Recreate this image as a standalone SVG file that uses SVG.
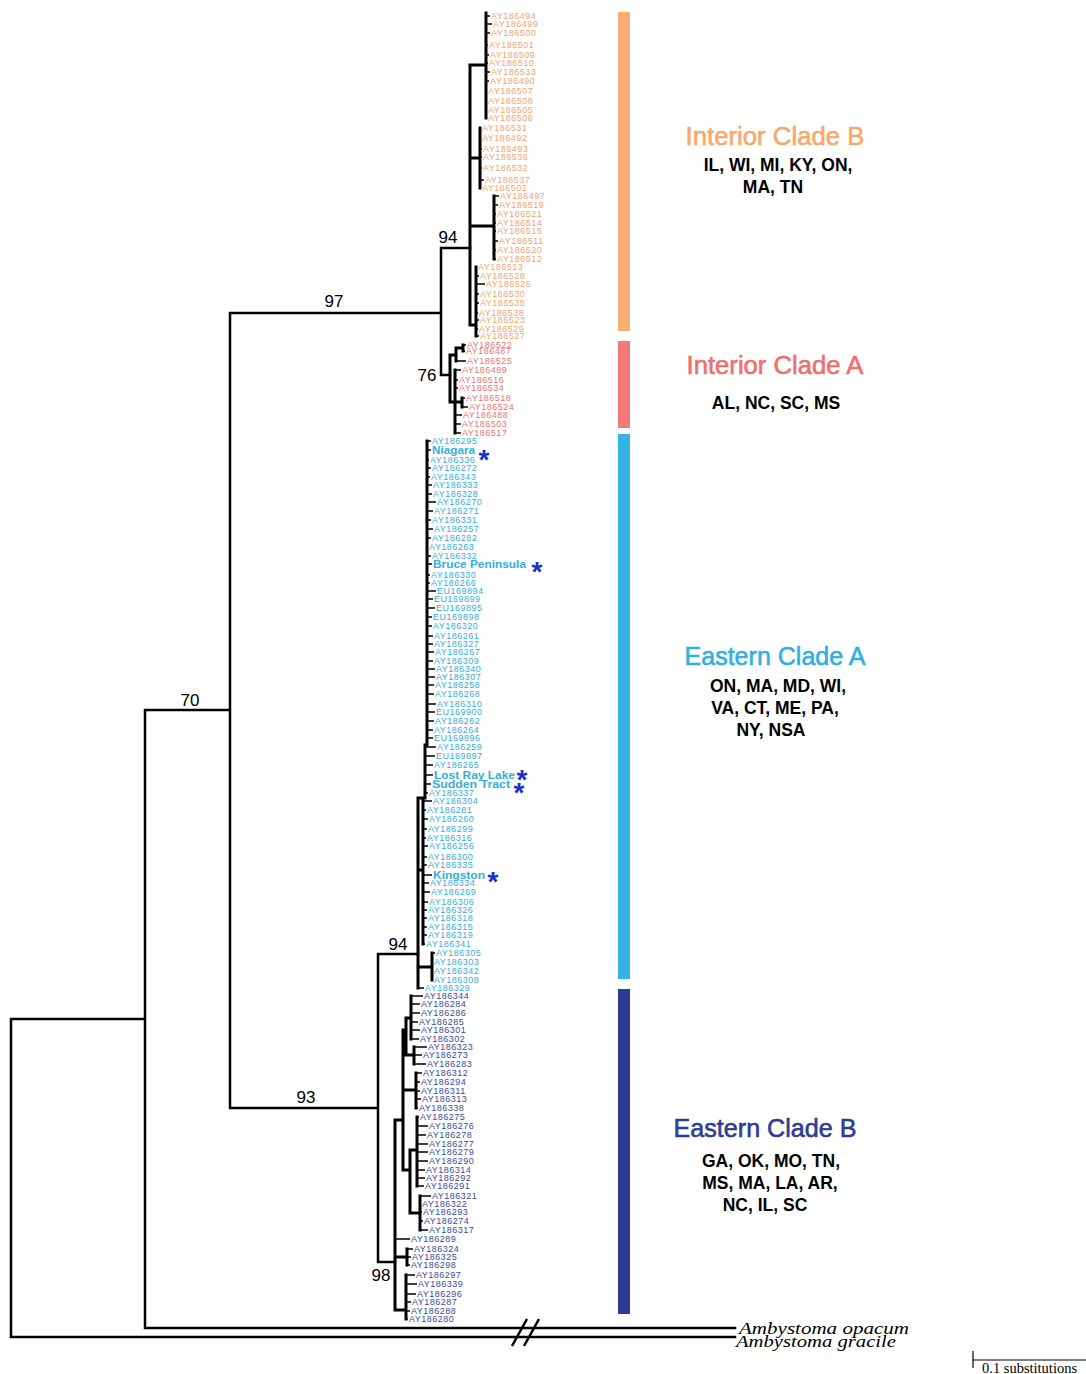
<svg xmlns="http://www.w3.org/2000/svg" width="1086" height="1374" viewBox="0 0 1086 1374">
<style>
.bb{stroke:#000;stroke-width:2.5;fill:none;stroke-linecap:square}
.in{stroke:#000;stroke-width:3;fill:none;stroke-linecap:square}
.tp{stroke:#000;stroke-width:1.5;fill:none}
.t{font-family:"Liberation Sans",Arial,sans-serif;font-size:9px;letter-spacing:0.5px}
.bl{font-family:"Liberation Sans",Arial,sans-serif;font-size:10px;font-weight:bold;fill:#34AEDD}
.ob{fill:#F2A470}.ra{fill:#EC7474}.ea{fill:#34AEDD}.eb{fill:#3A4A9E}
.st{font-family:"Liberation Sans",Arial,sans-serif;font-size:28px;font-weight:bold;fill:#1C2FC4;text-anchor:middle}
.ti{font-family:"Liberation Sans",Arial,sans-serif;font-size:26px;text-anchor:middle;stroke-width:0.6}
.rg{font-family:"Liberation Sans",Arial,sans-serif;font-size:17.5px;font-weight:bold;text-anchor:middle;fill:#000}
.bs{font-family:"Liberation Sans",Arial,sans-serif;font-size:17px;fill:#000;text-anchor:middle}
.og{font-family:"Liberation Serif","Times New Roman",serif;font-size:17px;font-style:italic;fill:#000}
</style>
<rect width="1086" height="1374" fill="#fff"/>
<g id="connectors">
<path class="bb" d="M11,1019V1337M11,1019H145M11,1337H735M145,710V1328M145,1328H735M145,710H230M230,313V1108M230,313H441M230,1108H378M441,248V375M441,248H470M441,375H450M378,954V1262M378,954H418M378,1262H395"/>
<g id="break">
<path d="M512,1346L527,1319M524,1346L539,1319" stroke="#000" stroke-width="2.5"/>
</g>
<path class="in" d="M470,65V325M470,65H486M486,13V118M470,158H480M480,128V188M470,226H494M494,196V259M470,325H476M476,267V336"/>
<path class="tp" d="M486,16H490M486,24H492M486,33H490M486,45H488M486,55H489M486,63H488M486,72H490M486,81H489M480,149H482M480,157H482M480,168H482M480,180H484M494,196H499M494,205H498M494,214H496M494,223H496M494,231H496M494,241H498M494,250H496M494,259H496M476,276H479M476,284H485M476,294H479M476,303H479M476,313H478M476,320H479M476,329H478M476,336H479"/>
<path class="in" d="M450,355V402M450,355H456M456,348V361M456,348H463M463,345V351M450,402H455M455,370V433M455,402H462M462,398V407"/>
<path class="tp" d="M463,345H466M463,351H465M456,361H466M455,370H461M455,380H458M455,388H458M455,415H462M455,424H461M455,433H461M462,398H465M462,407H468"/>
<path class="in" d="M427,441V745M425,745H427M425,745V798M418,798H425M418,798V988M418,870H423M423,801V944M418,967H432M432,953V980"/>
<path class="tp" d="M427,441H431M427,450H431M427,460H429M427,468H431M427,477H430M427,485H432M427,494H432M427,502H436M427,511H433M427,520H431M427,529H433M427,538H431M427,556H431M427,564H432M427,575H430M427,583H430M427,591H436M427,599H433M427,608H435M427,617H432M427,626H432M427,636H433M427,644H433M427,652H434M427,661H433M427,669H435M427,677H435M427,685H434M427,694H434M427,704H436M427,712H435M427,721H434M427,730H433M427,738H433M425,747H436M425,756H435M425,765H433M425,775H433M425,784H431M425,793H428M423,801H432M423,810H426M423,819H428M423,829H427M423,838H426M423,846H428M423,857H427M423,865H427M423,875H432M423,883H429M423,892H430M423,902H428M423,910H427M423,918H427M423,927H427M423,935H427M423,944H425M432,953H435M432,962H433M432,971H433M432,980H433M418,988H424"/>
<path class="in" d="M395,1120V1310M395,1120H403M403,1030V1170M403,1030H406M406,1018V1055M406,1018H411M411,996V1039M406,1055H414M414,1047V1064M403,1090H416M416,1073V1108M403,1170H410M410,1150V1213M410,1150H417M417,1117V1186M410,1213H420M420,1196V1230M395,1257H407M407,1249V1265M395,1310H406M406,1275V1319"/>
<path class="tp" d="M411,996H423M411,1004H420M411,1013H420M411,1022H418M411,1030H420M411,1039H419M414,1047H427M414,1055H422M414,1064H426M416,1073H422M416,1082H420M416,1091H420M416,1099H421M416,1108H418M417,1117H419M417,1126H428M417,1135H426M417,1144H428M417,1152H428M417,1161H428M417,1170H425M417,1178H425M417,1186H424M420,1196H431M420,1204H421M420,1212H422M420,1221H423M420,1230H428M395,1239H410M407,1249H413M407,1257H411M407,1265H410M406,1275H415M406,1284H417M406,1294H416M406,1302H411M406,1311H410M406,1319H408"/>
</g>
<g id="bootstrap">
<text class="bs" x="334" y="307">97</text>
<text class="bs" x="448" y="243">94</text>
<text class="bs" x="427" y="381">76</text>
<text class="bs" x="190" y="706">70</text>
<text class="bs" x="306" y="1103">93</text>
<text class="bs" x="398" y="950">94</text>
<text class="bs" x="381" y="1281">98</text>
</g>
<g id="interior-clade-b" class="t ob">
<text x="491" y="19">AY186494</text>
<text x="493" y="27">AY186499</text>
<text x="491" y="36">AY186500</text>
<text x="489" y="48">AY186501</text>
<text x="490" y="58">AY186509</text>
<text x="489" y="66">AY186510</text>
<text x="491" y="75">AY186533</text>
<text x="490" y="84">AY186490</text>
<text x="488" y="94">AY186507</text>
<text x="488" y="104">AY186508</text>
<text x="488" y="113">AY186505</text>
<text x="488" y="121">AY186506</text>
<text x="482" y="131">AY186531</text>
<text x="482" y="141">AY186492</text>
<text x="483" y="152">AY186493</text>
<text x="483" y="160">AY186536</text>
<text x="483" y="171">AY186532</text>
<text x="485" y="183">AY186537</text>
<text x="482" y="191">AY186502</text>
<text x="500" y="199">AY186497</text>
<text x="499" y="208">AY186519</text>
<text x="497" y="217">AY186521</text>
<text x="497" y="226">AY186514</text>
<text x="497" y="234">AY186515</text>
<text x="499" y="244">AY186511</text>
<text x="497" y="253">AY186520</text>
<text x="497" y="262">AY186512</text>
<text x="478" y="270">AY186513</text>
<text x="480" y="279">AY186528</text>
<text x="486" y="287">AY186526</text>
<text x="480" y="297">AY186530</text>
<text x="480" y="306">AY186535</text>
<text x="479" y="316">AY186538</text>
<text x="480" y="323">AY186523</text>
<text x="479" y="332">AY186529</text>
<text x="480" y="339">AY186527</text>
</g>
<g id="interior-clade-a" class="t ra">
<text x="467" y="348">AY186522</text>
<text x="466" y="354">AY186487</text>
<text x="467" y="364">AY186525</text>
<text x="462" y="373">AY186489</text>
<text x="459" y="383">AY186516</text>
<text x="459" y="391">AY186534</text>
<text x="466" y="401">AY186518</text>
<text x="469" y="410">AY186524</text>
<text x="463" y="418">AY186488</text>
<text x="462" y="427">AY186503</text>
<text x="462" y="436">AY186517</text>
</g>
<g id="eastern-clade-a" class="t ea">
<text x="432" y="444">AY186295</text>
<text x="430" y="463">AY186336</text>
<text x="432" y="471">AY186272</text>
<text x="431" y="480">AY186343</text>
<text x="433" y="488">AY186333</text>
<text x="433" y="497">AY186328</text>
<text x="437" y="505">AY186270</text>
<text x="434" y="514">AY186271</text>
<text x="432" y="523">AY186331</text>
<text x="434" y="532">AY186257</text>
<text x="432" y="541">AY186282</text>
<text x="429" y="550">AY186263</text>
<text x="432" y="559">AY186332</text>
<text x="431" y="578">AY186330</text>
<text x="431" y="586">AY186266</text>
<text x="437" y="594">EU169894</text>
<text x="434" y="602">EU169899</text>
<text x="436" y="611">EU169895</text>
<text x="433" y="620">EU169898</text>
<text x="433" y="629">AY186320</text>
<text x="434" y="639">AY186261</text>
<text x="434" y="647">AY186327</text>
<text x="435" y="655">AY186267</text>
<text x="434" y="664">AY186309</text>
<text x="436" y="672">AY186340</text>
<text x="436" y="680">AY186307</text>
<text x="435" y="688">AY186258</text>
<text x="435" y="697">AY186268</text>
<text x="437" y="707">AY186310</text>
<text x="436" y="715">EU169900</text>
<text x="435" y="724">AY186262</text>
<text x="434" y="733">AY186264</text>
<text x="434" y="741">EU169896</text>
<text x="437" y="750">AY186259</text>
<text x="436" y="759">EU169897</text>
<text x="434" y="768">AY186265</text>
<text x="429" y="796">AY186337</text>
<text x="433" y="804">AY186304</text>
<text x="427" y="813">AY186281</text>
<text x="429" y="822">AY186260</text>
<text x="428" y="832">AY186299</text>
<text x="427" y="841">AY186316</text>
<text x="429" y="849">AY186256</text>
<text x="428" y="860">AY186300</text>
<text x="428" y="868">AY186335</text>
<text x="430" y="886">AY186334</text>
<text x="431" y="895">AY186269</text>
<text x="429" y="905">AY186306</text>
<text x="428" y="913">AY186326</text>
<text x="428" y="921">AY186318</text>
<text x="428" y="930">AY186315</text>
<text x="428" y="938">AY186319</text>
<text x="426" y="947">AY186341</text>
<text x="436" y="956">AY186305</text>
<text x="434" y="965">AY186303</text>
<text x="434" y="974">AY186342</text>
<text x="434" y="983">AY186308</text>
<text x="425" y="991">AY186329</text>
</g>
<g id="sampled-populations">
<g id="niagara"><text class="bl" x="432" y="454" textLength="43" lengthAdjust="spacingAndGlyphs">Niagara</text><text class="st" x="484" y="469">*</text></g>
<g id="bruce-peninsula"><text class="bl" x="433" y="568" textLength="93" lengthAdjust="spacingAndGlyphs">Bruce Peninsula</text><text class="st" x="537" y="581">*</text></g>
<g id="lost-ray-lake"><text class="bl" x="434" y="779" textLength="81" lengthAdjust="spacingAndGlyphs">Lost Ray Lake</text><text class="st" x="522" y="789">*</text></g>
<g id="sudden-tract"><text class="bl" x="432" y="788" textLength="78" lengthAdjust="spacingAndGlyphs">Sudden Tract</text><text class="st" x="519" y="802">*</text></g>
<g id="kingston"><text class="bl" x="433" y="879" textLength="52" lengthAdjust="spacingAndGlyphs">Kingston</text><text class="st" x="493" y="891">*</text></g>
</g>
<g id="eastern-clade-b" class="t eb">
<text x="424" y="999">AY186344</text>
<text x="421" y="1007">AY186284</text>
<text x="421" y="1016">AY186286</text>
<text x="419" y="1025">AY186285</text>
<text x="421" y="1033">AY186301</text>
<text x="420" y="1042">AY186302</text>
<text x="428" y="1050">AY186323</text>
<text x="423" y="1058">AY186273</text>
<text x="427" y="1067">AY186283</text>
<text x="423" y="1076">AY186312</text>
<text x="421" y="1085">AY186294</text>
<text x="421" y="1094">AY186311</text>
<text x="422" y="1102">AY186313</text>
<text x="419" y="1111">AY186338</text>
<text x="420" y="1120">AY186275</text>
<text x="429" y="1129">AY186276</text>
<text x="427" y="1138">AY186278</text>
<text x="429" y="1147">AY186277</text>
<text x="429" y="1155">AY186279</text>
<text x="429" y="1164">AY186290</text>
<text x="426" y="1173">AY186314</text>
<text x="426" y="1181">AY186292</text>
<text x="425" y="1189">AY186291</text>
<text x="432" y="1199">AY186321</text>
<text x="422" y="1207">AY186322</text>
<text x="423" y="1215">AY186293</text>
<text x="424" y="1224">AY186274</text>
<text x="429" y="1233">AY186317</text>
<text x="411" y="1242">AY186289</text>
<text x="414" y="1252">AY186324</text>
<text x="412" y="1260">AY186325</text>
<text x="411" y="1268">AY186298</text>
<text x="416" y="1278">AY186297</text>
<text x="418" y="1287">AY186339</text>
<text x="417" y="1297">AY186296</text>
<text x="412" y="1305">AY186287</text>
<text x="411" y="1314">AY186288</text>
<text x="409" y="1322">AY186280</text>
</g>
<g id="outgroups">
<text class="og" x="739" y="1334" textLength="170" lengthAdjust="spacingAndGlyphs">Ambystoma opacum</text>
<text class="og" x="736" y="1347" textLength="160" lengthAdjust="spacingAndGlyphs">Ambystoma gracile</text>
</g>
<g id="clade-bars">
<rect x="618" y="12" width="12" height="319" fill="#F9AE73"/>
<rect x="618" y="341" width="12" height="87" fill="#F07B77"/>
<rect x="618" y="434" width="12" height="545" fill="#35B4E3"/>
<rect x="618" y="989" width="12" height="325" fill="#2F3C91"/>
</g>
<g id="legend-interior-b">
<text class="ti" x="775" y="145" fill="#F7A96C" stroke="#F7A96C" textLength="179" lengthAdjust="spacingAndGlyphs">Interior Clade B</text>
<text class="rg" x="778" y="171">IL, WI, MI, KY, ON,</text>
<text class="rg" x="773" y="193">MA, TN</text>
</g>
<g id="legend-interior-a">
<text class="ti" x="775" y="374" fill="#EE6F6C" stroke="#EE6F6C" textLength="177" lengthAdjust="spacingAndGlyphs">Interior Clade A</text>
<text class="rg" x="776" y="409">AL, NC, SC, MS</text>
</g>
<g id="legend-eastern-a">
<text class="ti" x="775" y="665" fill="#30B0E0" stroke="#30B0E0" textLength="181" lengthAdjust="spacingAndGlyphs">Eastern Clade A</text>
<text class="rg" x="778" y="692">ON, MA, MD, WI,</text>
<text class="rg" x="775" y="714">VA, CT, ME, PA,</text>
<text class="rg" x="771" y="736">NY, NSA</text>
</g>
<g id="legend-eastern-b">
<text class="ti" x="765" y="1137" fill="#2E3C92" stroke="#2E3C92" textLength="183" lengthAdjust="spacingAndGlyphs">Eastern Clade B</text>
<text class="rg" x="771" y="1167">GA, OK, MO, TN,</text>
<text class="rg" x="770" y="1189">MS, MA, LA, AR,</text>
<text class="rg" x="765" y="1211">NC, IL, SC</text>
</g>
<g id="scale-bar">
<path d="M973,1360H1086M973,1351V1368" stroke="#000" stroke-width="1.2" fill="none"/>
<text x="982" y="1373" font-family="Liberation Serif,'Times New Roman',serif" font-size="14.5">0.1 substitutions</text>
</g>
</svg>
